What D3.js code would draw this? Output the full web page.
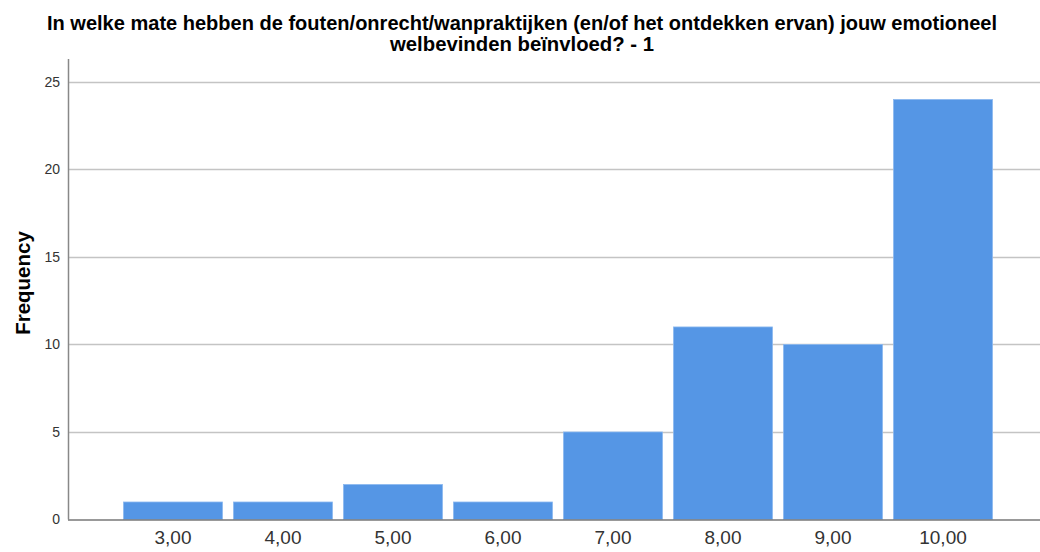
<!DOCTYPE html>
<html>
<head>
<meta charset="utf-8">
<script src="https://cdn.jsdelivr.net/npm/d3@7"></script>
<style>
  body { margin: 0; background: #fff; }
  svg { display: block; }
</style>
</head>
<body>
<div id="chart"></div>
<script>
const categories = ['3,00', '4,00', '5,00', '6,00', '7,00', '8,00', '9,00', '10,00'];
const frequencies = [1, 1, 2, 1, 5, 11, 10, 24];
const yTicks = [0, 5, 10, 15, 20, 25];
const titleLines = [
    'In welke mate hebben de fouten/onrecht/wanpraktijken (en/of het ontdekken ervan) jouw emotioneel',
    'welbevinden beïnvloed? - 1'
];

const width = 1040;
const height = 552;
const plotLeft = 68, plotRight = 1040, plotTop = 59, plotBottom = 519.5;

const svg = d3.select('#chart')
    .append('svg')
    .attr('width', width)
    .attr('height', height);

const x = d3.scaleBand()
    .domain(categories)
    .range([118, 998])
    .paddingInner(0.1)
    .paddingOuter(0.05);

const y = d3.scaleLinear()
    .domain([0, 25])
    .range([plotBottom, 81.9]);

// gridlines
svg.append('g')
    .selectAll('line')
    .data(yTicks.filter(d => d > 0))
    .join('line')
    .attr('x1', plotLeft)
    .attr('x2', plotRight)
    .attr('y1', d => Math.round(y(d)) + 0.5)
    .attr('y2', d => Math.round(y(d)) + 0.5)
    .attr('stroke', '#c4c4c4')
    .attr('stroke-width', 1.3);

// bars
svg.append('g')
    .selectAll('rect')
    .data(frequencies)
    .join('rect')
    .attr('x', (d, i) => x(categories[i]))
    .attr('y', d => y(d))
    .attr('width', x.bandwidth())
    .attr('height', d => plotBottom - y(d))
    .attr('fill', '#5596e5')
    .attr('stroke', '#8cb8ef')
    .attr('stroke-width', 0.8);

// y axis
const yAxis = svg.append('g')
    .attr('transform', `translate(${plotLeft},0)`)
    .call(d3.axisLeft(y).tickValues(yTicks).tickSize(0).tickPadding(8));
yAxis.select('.domain').remove();
yAxis.selectAll('text')
    .attr('font-family', 'Liberation Sans, Arial, sans-serif')
    .attr('font-size', 14)
    .attr('fill', '#333');

svg.append('line')
    .attr('x1', plotLeft + 0.5).attr('x2', plotLeft + 0.5)
    .attr('y1', plotTop).attr('y2', plotBottom)
    .attr('stroke', '#888').attr('stroke-width', 1.5);

// x axis
const xAxis = svg.append('g')
    .attr('transform', `translate(0,${plotBottom})`)
    .call(d3.axisBottom(x).tickSize(0).tickPadding(11));
xAxis.select('.domain').remove();
xAxis.selectAll('text')
    .attr('font-family', 'Liberation Sans, Arial, sans-serif')
    .attr('font-size', 19)
    .attr('fill', '#333');

svg.append('line')
    .attr('x1', plotLeft).attr('x2', plotRight)
    .attr('y1', plotBottom + 0.5).attr('y2', plotBottom + 0.5)
    .attr('stroke', '#777').attr('stroke-width', 1.3);

// axis title
svg.append('text')
    .attr('transform', `translate(30,283) rotate(-90)`)
    .attr('text-anchor', 'middle')
    .attr('font-family', 'Liberation Sans, Arial, sans-serif')
    .attr('font-weight', 'bold')
    .attr('font-size', 20.5)
    .attr('fill', '#000')
    .text('Frequency');

// chart title
const titleWidths = [950, 264];
svg.append('g')
    .selectAll('text')
    .data(titleLines)
    .join('text')
    .attr('x', 522)
    .attr('y', (d, i) => 30 + i * 21)
    .attr('text-anchor', 'middle')
    .attr('font-family', 'Liberation Sans, Arial, sans-serif')
    .attr('font-weight', 'bold')
    .attr('font-size', 20.5)
    .attr('textLength', (d, i) => titleWidths[i])
    .attr('lengthAdjust', 'spacingAndGlyphs')
    .attr('fill', '#000')
    .text(d => d);
</script>
</body>
</html>
